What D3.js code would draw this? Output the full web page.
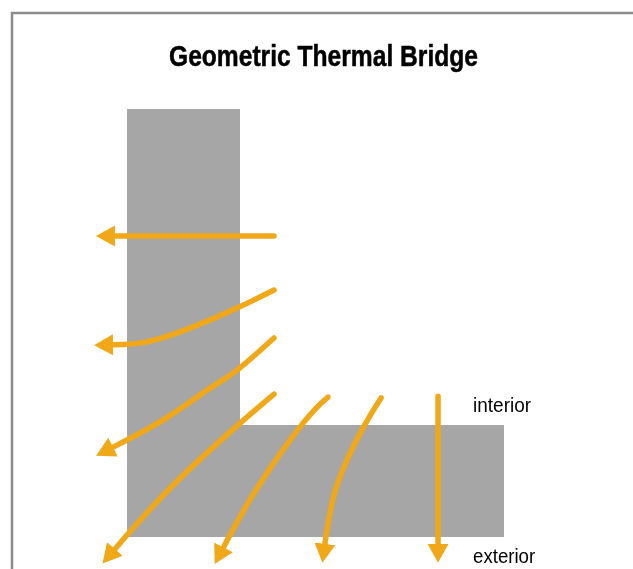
<!DOCTYPE html>
<html>
<head>
<meta charset="utf-8">
<script src="https://cdnjs.cloudflare.com/ajax/libs/d3/7.8.5/d3.min.js"></script>
<style>
  html, body { margin: 0; padding: 0; background: #fff; overflow: hidden; }
  svg { filter: blur(0.4px); }
  text { font-family: "Liberation Sans", sans-serif; fill: #000; }
</style>
</head>
<body>
<div id="chart"></div>
<script>
// wall outline, in percent of the corner's overall width and height
const wallUpright = [[0, 0], [30, 100]];
const wallFooting = [[30, 73.8], [100, 100]];

// heat flow lines, [x, y] in the same units, inside to outside
const flowLines = [
  [[39, 29.7], [-3.2, 29.7]],
  [[39, 42.3], [29.2, 46.5], [16.7, 51.2], [5.3, 54.4], [-3.7, 55.1]],
  [[39, 53.5], [29.2, 61], [21.2, 65.7], [9.5, 72.7], [-3.7, 79]],
  [[39, 66.6], [30, 73.4], [12.2, 87.9], [-3.2, 102.8]],
  [[53.3, 67.3], [46.7, 73.4], [34.5, 88.6], [25.6, 102.4]],
  [[67.4, 67.5], [62.6, 74.5], [55.7, 87.9], [52.5, 101.6]],
  [[82.5, 67.1], [82.5, 101.6]]
];

const titleText = "Geometric Thermal Bridge";
const sideLabels = [
  { text: "interior", x: 91.8, y: 70.8, w: 58 },
  { text: "exterior", x: 91.8, y: 106.1, w: 62 }
];

const width = 633, height = 569;

const svg = d3.select("#chart").append("svg")
  .attr("width", width)
  .attr("height", height);

let x = d3.scaleLinear().domain([0, 100]).range([127, 504]);
let y = d3.scaleLinear().domain([0, 100]).range([109, 537]);

// frame, open on the right and at the bottom
svg.append("path")
  .attr("d", d3.line()([[12, height], [12, 13], [width, 13]]))
  .attr("fill", "none")
  .attr("stroke", "#8c8c8c")
  .attr("stroke-width", 2.5);

// the original face is a condensed one, so squeeze the sans to the same width
svg.append("text")
  .attr("x", 169)
  .attr("y", 66)
  .attr("font-size", 29)
  .attr("font-weight", "bold")
  .attr("stroke", "#000")
  .attr("stroke-width", 0.5)
  .attr("textLength", 309)
  .attr("lengthAdjust", "spacingAndGlyphs")
  .text(titleText);

svg.selectAll("rect.wall")
  .data([wallUpright, wallFooting])
  .enter()
  .append("rect")
  .attr("class", "wall")
  .attr("x", d => x(d[0][0]))
  .attr("y", d => y(d[0][1]))
  .attr("width", d => x(d[1][0]) - x(d[0][0]))
  .attr("height", d => y(d[1][1]) - y(d[0][1]))
  .attr("shape-rendering", "crispEdges")
  .attr("fill", "#a6a6a6");

svg.append("defs").append("marker")
  .attr("id", "head")
  .attr("markerUnits", "userSpaceOnUse")
  .attr("markerWidth", 21)
  .attr("markerHeight", 24)
  .attr("refX", 0)
  .attr("refY", 12)
  .attr("orient", "auto")
  .append("path")
  .attr("d", "M0,1.5L19,12L0,22.5Z")
  .attr("fill", "#f0a818");

const flow = d3.line()
  .x(d => x(d[0]))
  .y(d => y(d[1]))
  .curve(d3.curveNatural);

svg.selectAll("path.flow")
  .data(flowLines)
  .enter()
  .append("path")
  .attr("class", "flow")
  .attr("d", flow)
  .attr("fill", "none")
  .attr("stroke", "#f0a818")
  .attr("stroke-width", 5.5)
  .attr("stroke-linecap", "round")
  .attr("marker-end", "url(#head)");

svg.selectAll("text.side")
  .data(sideLabels)
  .enter()
  .append("text")
  .attr("class", "side")
  .attr("x", d => x(d.x))
  .attr("y", d => y(d.y))
  .attr("font-size", 21)
  .attr("textLength", d => d.w)
  .attr("lengthAdjust", "spacingAndGlyphs")
  .text(d => d.text);
</script>
</body>
</html>
